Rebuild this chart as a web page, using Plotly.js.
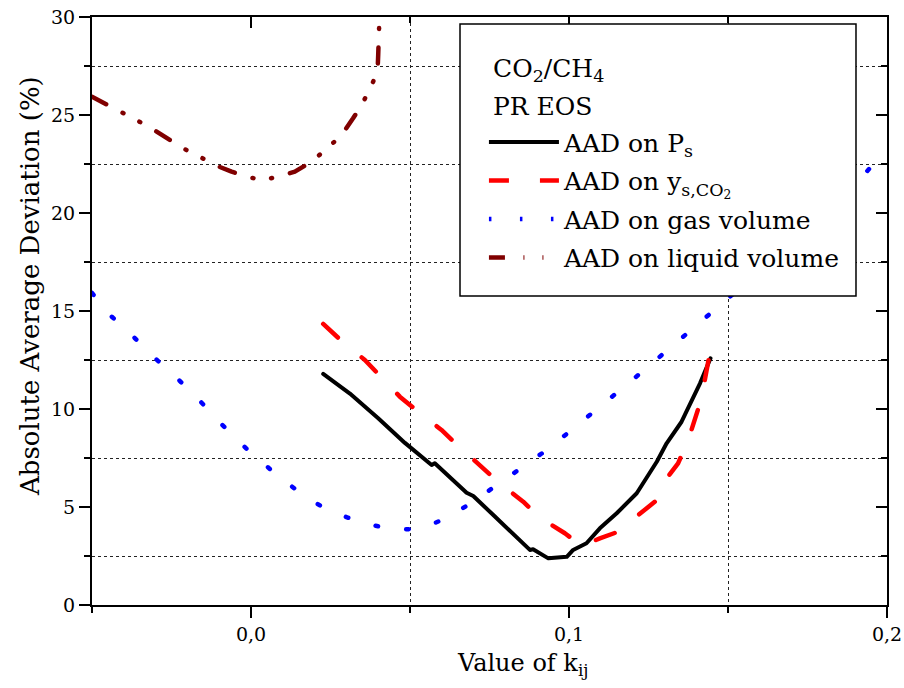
<!DOCTYPE html>
<html>
<head>
<meta charset="utf-8">
<script src="https://cdn.plot.ly/plotly-3.0.1.min.js"></script>
<style>
html,body{margin:0;padding:0;background:#fff;}
#chart{width:904px;height:688px;}
.scatterlayer .js-line{stroke-linecap:round;stroke-linejoin:round;}
</style>
</head>
<body>
<div id="chart"></div>
<script>
// ---- data ----
const seriesNames = ['AAD on P<sub>s</sub>', 'AAD on y<sub>s,CO<sub>2</sub></sub>', 'AAD on gas volume', 'AAD on liquid volume'];

const kPs   = [0.0227, 0.0311, 0.0400, 0.0484, 0.0568, 0.0578, 0.0678, 0.0699, 0.0762, 0.0877, 0.0887, 0.0935, 0.0993, 0.1013, 0.1055, 0.1097, 0.1150, 0.1213, 0.1276, 0.1307, 0.1354, 0.1386, 0.1412, 0.1445];
const aadPs = [11.79, 10.79, 9.53, 8.27, 7.14, 7.23, 5.73, 5.56, 4.59, 2.81, 2.84, 2.38, 2.46, 2.81, 3.15, 3.91, 4.68, 5.70, 7.31, 8.25, 9.35, 10.46, 11.31, 12.59];

const kYs   = [0.0227, 0.0279, 0.0358, 0.0405, 0.0468, 0.0526, 0.0599, 0.0651, 0.0725, 0.0780, 0.0856, 0.0908, 0.0987, 0.1040, 0.1097, 0.1155, 0.1218, 0.1270, 0.1307, 0.1343, 0.1375, 0.1391, 0.1417, 0.1427, 0.1443];
const aadYs = [14.34, 13.56, 12.50, 11.73, 10.63, 9.86, 8.93, 8.13, 7.06, 6.24, 5.27, 4.47, 3.66, 3.01, 3.40, 3.74, 4.59, 5.27, 6.46, 7.23, 8.42, 9.30, 10.55, 11.48, 12.87];

const kGas   = [-0.0500, -0.0444, -0.0373, -0.0305, -0.0231, -0.0161, -0.0090, -0.0012, 0.0068, 0.0144, 0.0224, 0.0302, 0.0380, 0.0460, 0.0538, 0.0617, 0.0696, 0.0772, 0.0849, 0.0930, 0.1008, 0.1087, 0.1165, 0.1244, 0.1323, 0.1401, 0.1478, 0.1560, 0.1640, 0.1720, 0.1800, 0.1880, 0.1955];
const aadGas = [15.92, 14.80, 13.74, 12.64, 11.55, 10.42, 9.18, 7.94, 6.82, 5.85, 5.00, 4.47, 4.08, 3.83, 3.91, 4.45, 5.24, 6.11, 6.95, 7.91, 8.93, 9.95, 11.02, 12.09, 13.18, 14.27, 15.37, 16.5, 17.6, 18.7, 19.9, 21.1, 22.45];

const kLiq   = [-0.0500, -0.0460, -0.0413, -0.0360, -0.0313, -0.0261, -0.0214, -0.0161, -0.0114, -0.0061, -0.0014, 0.0038, 0.0085, 0.0138, 0.0185, 0.0232, 0.0285, 0.0321, 0.0348, 0.0377, 0.0398, 0.0400, 0.0402, 0.0404, 0.0405];
const aadLiq = [25.93, 25.60, 25.20, 24.74, 24.32, 23.76, 23.30, 22.87, 22.45, 22.11, 21.85, 21.68, 21.85, 22.11, 22.57, 23.18, 23.98, 24.83, 25.51, 26.44, 27.21, 28.06, 28.83, 29.71, 30.5];

const xRange = [-0.05, 0.2];
const yRange = [0, 30];
const legendHeading = ['CO<sub>2</sub>/CH<sub>4</sub>', 'PR EOS'];
const xTitle = 'Value of k<sub>ij</sub>';
const yTitle = 'Absolute Average Deviation (%)';

// ---- chart ----
const fontFam = 'DejaVu Serif';

const traces = [
  {x: kPs, y: aadPs, name: seriesNames[0], mode: 'lines', legendgroup: 'g1',
   line: {color: '#000000', width: 4}},
  {x: kYs, y: aadYs, name: seriesNames[1], mode: 'lines', legendgroup: 'g2',
   line: {color: '#ff0000', width: 4.5, dash: '20px,31px'}},
  {x: kGas, y: aadGas, name: seriesNames[2], mode: 'lines', legendgroup: 'g3',
   line: {color: '#0000ff', width: 4.5, dash: '2.5px,28.5px'}},
  {x: kLiq, y: aadLiq, name: seriesNames[3], mode: 'lines', legendgroup: 'g4',
   line: {color: '#800000', width: 4.5, dash: '16px,18.5px,1px,18px,1px,18.5px'}},
  // carriers for the top / right frame axes (a single point outside the visible range: no mark)
  {x: [xRange[0]], y: [yRange[0] - 10], xaxis: 'x2', yaxis: 'y', mode: 'lines', showlegend: false, hoverinfo: 'skip'},
  {x: [xRange[0] - 1], y: [yRange[0]], xaxis: 'x', yaxis: 'y2', mode: 'lines', showlegend: false, hoverinfo: 'skip'}
];

const axisCommon = {
  showline: true, linewidth: 2, linecolor: '#000',
  showgrid: false, zeroline: false,
  tickwidth: 2, tickcolor: '#000', ticklen: 11
};

const layout = {
  width: 904, height: 688,
  margin: {l: 92, r: 17, t: 17, b: 83, pad: 0},
  paper_bgcolor: '#fff', plot_bgcolor: '#fff',
  separators: ',.',
  font: {family: fontFam, color: '#000', size: 19},
  showlegend: true,
  legend: {
    x: 0.493, y: 0.826, xanchor: 'left', yanchor: 'top',
    bgcolor: 'rgba(0,0,0,0)', borderwidth: 0,
    font: {family: fontFam, size: 25, color: '#000'},
    itemwidth: 70, traceorder: 'grouped', tracegroupgap: 3
  },
  shapes: [
    {type: 'rect', xref: 'paper', yref: 'paper', layer: 'above',
     x0: 0.4629, x1: 0.961, y0: 0.5255, y1: 0.988,
     fillcolor: '#fff', line: {color: '#000', width: 1.5}}
  ],
  annotations: [
    {text: legendHeading[0], xref: 'paper', yref: 'paper', x: 0.502, y: 0.910,
     xanchor: 'left', yanchor: 'middle', showarrow: false,
     font: {family: fontFam, size: 25, color: '#000'}},
    {text: legendHeading[1], xref: 'paper', yref: 'paper', x: 0.502, y: 0.847,
     xanchor: 'left', yanchor: 'middle', showarrow: false,
     font: {family: fontFam, size: 25, color: '#000'}},
    {text: xTitle, xref: 'paper', yref: 'paper', x: 0.541, y: -0.102,
     xanchor: 'center', yanchor: 'middle', showarrow: false,
     font: {family: fontFam, size: 24, color: '#000'}},
    {text: yTitle, xref: 'paper', yref: 'paper', x: -0.078, y: 0.5425, textangle: -90,
     xanchor: 'center', yanchor: 'middle', showarrow: false,
     font: {family: fontFam, size: 26, color: '#000'}}
  ],
  xaxis: Object.assign({}, axisCommon, {
    range: xRange, tick0: 0, dtick: 0.1, tickformat: '.1f',
    ticks: 'outside', tickfont: {family: fontFam, size: 19},
    minor: {tick0: -0.05, dtick: 0.05, ticks: 'outside', ticklen: 6, tickwidth: 1.5, tickcolor: '#000',
            showgrid: true, gridcolor: '#222', griddash: '3px,3px', gridwidth: 1}
  }),
  yaxis: Object.assign({}, axisCommon, {
    range: yRange, tick0: 0, dtick: 5,
    ticks: 'outside', tickfont: {family: fontFam, size: 19},
    minor: {tick0: 0, dtick: 2.5, ticks: 'outside', ticklen: 6, tickwidth: 1.5, tickcolor: '#000',
            showgrid: true, gridcolor: '#222', griddash: '3px,3px', gridwidth: 1}
  }),
  xaxis2: Object.assign({}, axisCommon, {
    overlaying: 'x', side: 'top', anchor: 'y',
    range: xRange, tick0: 0, dtick: 0.1, ticks: 'inside', showticklabels: false,
    minor: {tick0: -0.05, dtick: 0.05, ticks: 'inside', ticklen: 6, tickwidth: 1.5, tickcolor: '#000', showgrid: false}
  }),
  yaxis2: Object.assign({}, axisCommon, {
    overlaying: 'y', side: 'right', anchor: 'x',
    range: yRange, tick0: 0, dtick: 5, ticks: 'inside', showticklabels: false,
    minor: {tick0: 0, dtick: 2.5, ticks: 'inside', ticklen: 6, tickwidth: 1.5, tickcolor: '#000', showgrid: false}
  })
};

Plotly.newPlot('chart', traces, layout, {staticPlot: true, displayModeBar: false});
</script>
</body>
</html>
